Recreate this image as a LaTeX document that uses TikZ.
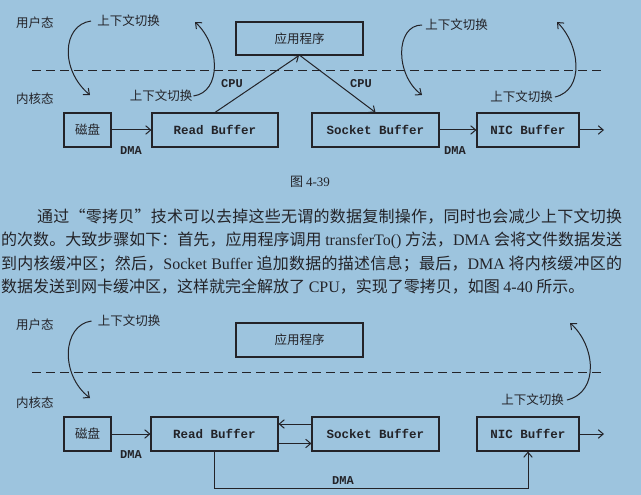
\documentclass[tikz,border=0pt]{standalone}
\usepackage{fontspec}
\setmainfont{Liberation Serif}
\newfontfamily\cjkfont{Noto Sans CJK SC}
\newfontfamily\monofont{Liberation Mono}
\usetikzlibrary{arrows.meta}
\definecolor{pagebg}{RGB}{157,196,222}
\definecolor{ink}{RGB}{35,35,40}
\newcommand{\lat}[1]{{\rmfamily #1}}
% glue between Chinese characters, so that a line can be justified
\newXeTeXintercharclass\hanclass
\count255="3000
\loop
	\XeTeXcharclass\count255=\hanclass
	\ifnum\count255<"9FFF \advance\count255 by 1 \repeat
\count255="FF00
\loop
	\XeTeXcharclass\count255=\hanclass
	\ifnum\count255<"FFEF \advance\count255 by 1 \repeat
\XeTeXcharclass"201C=\hanclass
\XeTeXcharclass"201D=\hanclass
\XeTeXinterchartoks\hanclass\hanclass={\hskip 0pt plus 2pt minus .5pt}

\begin{document}
\begin{tikzpicture}[x=1pt, y=-1pt,
	box/.style={draw=ink, line width=1.1pt, text=ink, inner sep=0pt, minimum height=34pt, font=\monofont\bfseries\fontsize{12.5}{14}\selectfont},
	cnbox/.style={box, font=\cjkfont\fontsize{12.5}{14}\selectfont},
	cn/.style={text=ink, inner sep=1pt, font=\cjkfont\fontsize{12.5}{14}\selectfont},
	tag/.style={text=ink, inner sep=0pt, font=\monofont\bfseries\fontsize{12}{14}\selectfont},
	flow/.style={draw=ink, line width=1pt, -{Straight Barb[length=5pt,width=8.5pt]}},
	split/.style={draw=ink, line width=1pt, dash pattern=on 9pt off 5pt},
	para/.style={text=ink, inner sep=0pt, anchor=west, font=\cjkfont\fontsize{16}{20}\selectfont, execute at begin node={\XeTeXinterchartokenstate=1}}]
	\fill[pagebg] (0,0) rectangle (641,495);
	\useasboundingbox (0,0) rectangle (641,495);

	% first figure
	\node[cn] (user1) at (35,23) {用户态};
	\node[cn] (kern1) at (35,99) {内核态};
	\draw[split] (32,71) -- (603,71);
	\node[cnbox, minimum width=127pt, minimum height=33pt] (app1) at (299.5,38.5) {应用程序};
	\node[cnbox, minimum width=47pt] (disk1) at (87.5,130) {磁盘};
	\node[box, minimum width=126pt] (rb1) at (215,130) {Read Buffer};
	\node[box, minimum width=127pt] (sb1) at (375.5,130) {Socket Buffer};
	\node[box, minimum width=102pt] (nic1) at (528,130) {NIC Buffer};
	\coordinate (out1) at (604,130);
	\draw[flow] (disk1) -- (rb1);
	\draw[flow] (sb1) -- (nic1);
	\draw[flow] (nic1) -- (out1);
	\draw[flow] (rb1.north) -- ([xshift=-.5pt]app1.south);
	\draw[flow] ([xshift=.5pt]app1.south) -- (sb1.north);
	\node[tag] (dma1) at (131,151) {DMA};
	\node[tag] (dma2) at (455,151) {DMA};
	\node[tag] (cpu1) at (232,84) {CPU};
	\node[tag] (cpu2) at (361,84) {CPU};
	\node[cn] (ctx1) at (128.5,21) {上下文切换};
	\node[cn] (ctx2) at (161,96) {上下文切换};
	\node[cn] (ctx3) at (456.5,25) {上下文切换};
	\node[cn] (ctx4) at (521.5,97) {上下文切换};
	\coordinate (tip1) at (90,95);
	\coordinate (tip2) at (195,22);
	\coordinate (tip3) at (422,95);
	\coordinate (tip4) at (557,22);
	\draw[flow] ([xshift=-5pt]ctx1.west) .. controls (62,25) and (60,70) .. (tip1);
	\draw[flow] (ctx2.east) .. controls (222,92) and (220,45) .. (tip2);
	\draw[flow] ([xshift=-2pt]ctx3.west) .. controls (395,25) and (395,75) .. (tip3);
	\draw[flow] ([xshift=1pt]ctx4.east) .. controls (585,90) and (580,45) .. (tip4);

	% caption and text
	\node[text=ink, inner sep=0pt, font=\cjkfont\fontsize{13}{15}\selectfont] (fig1) at (310,182) {图 \lat{4-39}};
	\node[para] (line1) at (37,217) {\hbox to 585pt{通过“零拷贝”技术可以去掉这些无谓的数据复制操作，同时也会减少上下文切换}};
	\node[para] (line2) at (1,240) {\hbox to 621pt{的次数。大致步骤如下：首先，应用程序调用 \lat{transferTo()} 方法，\lat{DMA} 会将文件数据发送}};
	\node[para] (line3) at (1,264) {\hbox to 621pt{到内核缓冲区；然后，\lat{Socket Buffer} 追加数据的描述信息；最后，\lat{DMA} 将内核缓冲区的}};
	\node[para] (line4) at (1,287) {数据发送到网卡缓冲区，这样就完全解放了 \lat{CPU}，实现了零拷贝，如图 \lat{4-40} 所示。};

	% second figure
	\node[cn] (user2) at (35,325) {用户态};
	\node[cn] (kern2) at (35,403) {内核态};
	\draw[split] (32,372) -- (603,372);
	\node[cnbox, minimum width=127pt, minimum height=34pt] (app2) at (299.5,340) {应用程序};
	\node[cnbox, minimum width=47pt] (disk2) at (87.5,434) {磁盘};
	\node[box, minimum width=127pt] (rb2) at (214.5,434) {Read Buffer};
	\node[box, minimum width=127pt] (sb2) at (375.5,434) {Socket Buffer};
	\node[box, minimum width=102pt] (nic2) at (528,434) {NIC Buffer};
	\coordinate (out2) at (604,434);
	\draw[flow] (disk2) -- (rb2);
	\draw[flow] ([yshift=10pt]sb2.west) -- ([yshift=10pt]rb2.east);
	\draw[flow] ([yshift=-9.5pt]rb2.east) -- ([yshift=-9.5pt]sb2.west);
	\draw[flow] (nic2) -- (out2);
	\draw[flow] (rb2.south) -- (rb2.south |- 0,488) -- (nic2.south |- 0,488) -- (nic2.south);
	\node[tag] (dma3) at (131,455) {DMA};
	\node[tag] (dma4) at (343,481) {DMA};
	\node[cn] (ctx5) at (129,321) {上下文切换};
	\node[cn] (ctx6) at (532.5,400) {上下文切换};
	\coordinate (tip5) at (90,398);
	\coordinate (tip6) at (570,323);
	\draw[flow] ([xshift=-5pt]ctx5.west) .. controls (62,325) and (60,375) .. (tip5);
	\draw[flow] ([xshift=2pt]ctx6.east) .. controls (600,392) and (595,345) .. (tip6);
\end{tikzpicture}
\end{document}
